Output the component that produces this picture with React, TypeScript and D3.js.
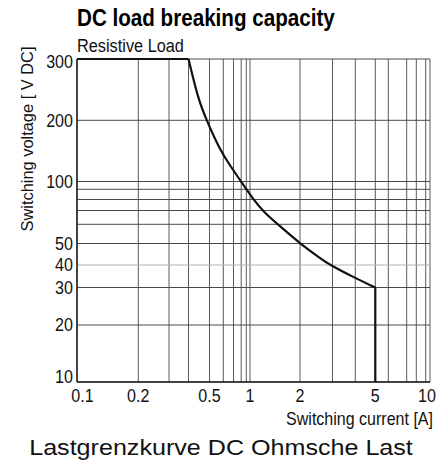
import React, { useEffect, useRef } from "react";
import * as d3 from "d3";

// axis ticks and grid
const xTicks = [0.1, 0.2, 0.5, 1, 2, 5, 10];
const xGrid = [0.1, 0.2, 0.3, 0.4, 0.5, 0.6, 0.7, 0.8, 0.9, 1, 2, 3, 4, 5, 6, 7, 8, 9, 10];
const yTicks = [10, 20, 30, 40, 50, 100, 200, 300];
const yGrid = [10, 20, 30, 40, 50, 60, 70, 80, 90, 100, 200, 300];

// load limit curve (current A, voltage V DC)
const currentA = [0.1, 0.4, 0.444, 0.485, 0.574, 0.669, 0.797, 1.047, 1.2, 1.516, 2, 2.567, 2.908, 3.985, 5, 5];
const voltageV = [300, 300, 229, 200, 143, 119, 100, 80.2, 69.2, 58.9, 50, 43, 40, 33.9, 30, 10];

const sans = "'Liberation Sans', Arial, sans-serif";

// squeeze a text horizontally so it covers the given width (the original uses a condensed face)
function fit(text: any, x: number, y: number, w: number, anchor: string, angle = 0) {
  text.attr("text-anchor", anchor);
  const len = text.node().getComputedTextLength();
  const k = w / len;
  text.attr("transform", `translate(${x},${y}) rotate(${angle}) scale(${k},1)`);
}

function App() {
  const svgRef = useRef<SVGSVGElement>(null);

  const width = 443;
  const height = 470;
  const plot = { left: 77, right: 430, top: 59, bottom: 382 };

  useEffect(() => {
    // the printed grid is not a clean log paper, so the scales are calibrated on every grid line
    const xScale = d3.scaleLog()
      .domain(xGrid)
      .range([77, 138.3, 169, 188.5, 209.5, 223.3, 233.5, 241.2, 246.3, 250, 300, 332.5, 355.3, 375.3, 388.3, 406.7, 416.3, 425.7, 430]);
    const yScale = d3.scaleLog()
      .domain(yGrid)
      .range([382, 325, 287.5, 265, 243.5, 224.3, 210.5, 199.5, 189.3, 181.5, 120.3, 59]);

    const svg = d3.select(svgRef.current);
    svg.selectAll("*").remove();
    const g = svg.append("g");

    // grid
    g.selectAll("line.vgrid")
      .data(xGrid)
      .enter()
      .append("line")
      .attr("class", "vgrid")
      .attr("x1", d => xScale(d))
      .attr("x2", d => xScale(d))
      .attr("y1", plot.top)
      .attr("y2", plot.bottom)
      .attr("stroke", "#5a5a5a")
      .attr("stroke-width", 1);

    g.selectAll("line.hgrid")
      .data(yGrid)
      .enter()
      .append("line")
      .attr("class", "hgrid")
      .attr("x1", plot.left)
      .attr("x2", plot.right)
      .attr("y1", d => yScale(d))
      .attr("y2", d => yScale(d))
      .attr("stroke", d => (d === 40 ? "#b0b0b0" : "#4a4a4a"))
      .attr("stroke-width", 1);

    // axes lines
    g.append("line")
      .attr("x1", plot.left).attr("x2", plot.left)
      .attr("y1", plot.top).attr("y2", plot.bottom)
      .attr("stroke", "#222").attr("stroke-width", 1.5);
    g.append("line")
      .attr("x1", plot.left).attr("x2", plot.right)
      .attr("y1", plot.bottom).attr("y2", plot.bottom)
      .attr("stroke", "#222").attr("stroke-width", 1.5);

    // curve: flat top, smooth fall, vertical drop at 5 A
    const pts = currentA.map((c, i) => [xScale(c), yScale(voltageV[i])] as [number, number]);
    const n = pts.length;
    const lin = d3.line();
    const smooth = d3.line().curve(d3.curveBasis);
    const curveStyle = (p: any) => p.attr("fill", "none").attr("stroke", "#111").attr("stroke-width", 2.2);
    g.append("path").attr("d", lin(pts.slice(0, 2))).call(curveStyle);
    g.append("path").attr("d", smooth(pts.slice(1, n - 1))).call(curveStyle);
    g.append("path").attr("d", lin(pts.slice(n - 2))).call(curveStyle);

    // tick labels
    g.selectAll("text.ytick")
      .data(yTicks)
      .enter()
      .append("text")
      .attr("class", "ytick")
      .attr("transform", d =>
        `translate(73,${Math.min(Math.max(yScale(d), plot.top + 2.5), plot.bottom - 5.5)}) scale(0.92,1)`)
      .attr("dy", "0.36em")
      .attr("text-anchor", "end")
      .attr("font-family", sans)
      .attr("font-size", 17.5)
      .attr("fill", "#111")
      .text(d => d);

    g.selectAll("text.xtick")
      .data(xTicks)
      .enter()
      .append("text")
      .attr("class", "xtick")
      .attr("transform", d =>
        `translate(${Math.min(Math.max(xScale(d), plot.left + 5.5), plot.right - 3)},401.5) scale(0.92,1)`)
      .attr("text-anchor", "middle")
      .attr("font-family", sans)
      .attr("font-size", 17.5)
      .attr("fill", "#111")
      .text(d => d);

    // titles
    const title = svg.append("text")
      .attr("font-family", sans)
      .attr("font-weight", "bold")
      .attr("font-size", 23)
      .attr("fill", "#000")
      .text("DC load breaking capacity");
    fit(title, 77, 26, 258, "start");

    const sub = svg.append("text")
      .attr("font-family", sans)
      .attr("font-size", 19)
      .attr("fill", "#111")
      .text("Resistive Load");
    fit(sub, 77, 51.5, 107, "start");

    const yLabel = svg.append("text")
      .attr("font-family", sans)
      .attr("font-size", 16.5)
      .attr("fill", "#111")
      .text("Switching voltage [ V DC]");
    fit(yLabel, 33, 139, 185, "middle", -90);

    const xLabel = svg.append("text")
      .attr("font-family", sans)
      .attr("font-size", 18.5)
      .attr("fill", "#111")
      .text("Switching current [A]");
    fit(xLabel, 433, 425, 147, "end");

    const caption = svg.append("text")
      .attr("font-family", sans)
      .attr("font-size", 22.5)
      .attr("fill", "#111")
      .text("Lastgrenzkurve DC Ohmsche Last");
    fit(caption, 221, 455, 384, "middle");
  }, []);

  return (
    <svg
      ref={svgRef}
      width={width}
      height={height}
      style={{ position: "absolute", left: 0, top: 0, background: "#fff" }}
    />
  );
}

export default App;
